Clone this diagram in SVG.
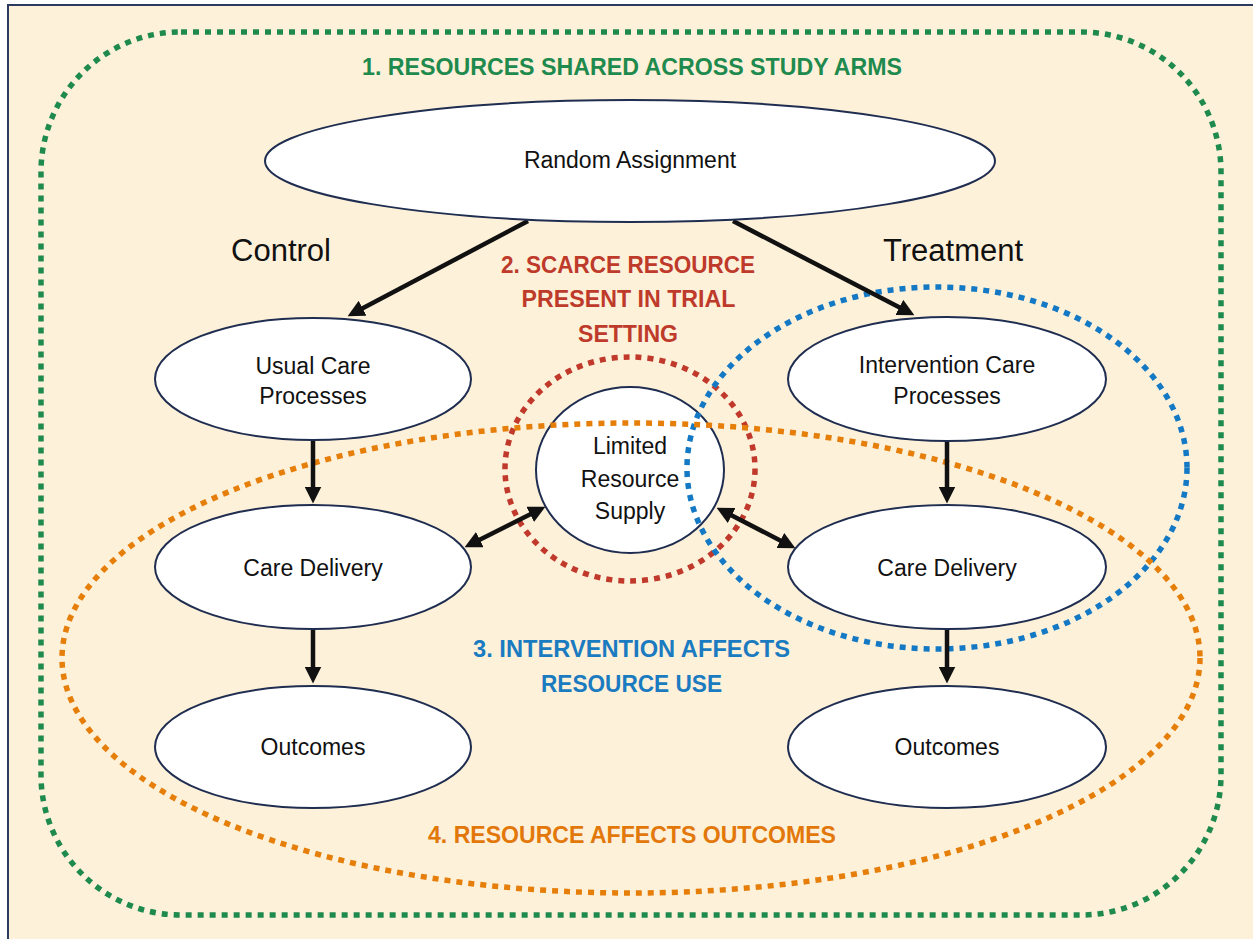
<svg xmlns="http://www.w3.org/2000/svg" width="1253" height="939" viewBox="0 0 1253 939">
<defs>
<style>
.bg{fill:#FEF1DA;stroke:#2B3A5E;stroke-width:2}
.node{fill:#FFFFFF;stroke:#1F2D50;stroke-width:2}
.nt{font-family:"Liberation Sans",Arial,sans-serif;font-size:23px;fill:#111;text-anchor:middle}
.arm{font-family:"Liberation Sans",Arial,sans-serif;font-size:31px;fill:#111;text-anchor:middle}
.hd{font-family:"Liberation Sans",Arial,sans-serif;font-size:24px;font-weight:bold;text-anchor:middle}
.dot{fill:none;stroke-width:5.5;stroke-dasharray:6 6}
.conn{stroke:#111;stroke-width:4.5;fill:none}
.one{marker-end:url(#ah)}
.two{marker-end:url(#ah);marker-start:url(#ah)}
</style>
<marker id="ah" markerUnits="userSpaceOnUse" markerWidth="17" markerHeight="17" viewBox="0 0 16 16" refX="8" refY="8" orient="auto-start-reverse">
<path d="M0,0 L16,8 L0,16 z" fill="#111"/>
</marker>
</defs>
<rect class="bg" x="8" y="5" width="1260" height="950"/>

<g id="group1-shared">
<rect class="dot" x="41" y="32" width="1180" height="883" rx="140" ry="140" stroke="#1F8A4D"/>
<text class="hd" x="632" y="75" textLength="540" lengthAdjust="spacingAndGlyphs" fill="#1F8A4D">1. RESOURCES SHARED ACROSS STUDY ARMS</text>
</g>

<g id="node-limited">
<ellipse class="node" cx="630" cy="470" rx="94" ry="83"/>
<text class="nt" x="630" y="454">Limited</text>
<text class="nt" x="630" y="487">Resource</text>
<text class="nt" x="630" y="519">Supply</text>
</g>

<g id="group2-scarce">
<ellipse class="dot" cx="630" cy="469" rx="125" ry="112" stroke="#C0392B"/>
<text class="hd" x="628" y="273" textLength="254" lengthAdjust="spacingAndGlyphs" fill="#BE3A2A">2. SCARCE RESOURCE</text>
<text class="hd" x="628.5" y="307" textLength="214" lengthAdjust="spacingAndGlyphs" fill="#BE3A2A">PRESENT IN TRIAL</text>
<text class="hd" x="628" y="342" textLength="100" lengthAdjust="spacingAndGlyphs" fill="#BE3A2A">SETTING</text>
</g>

<g id="group3-intervention">
<ellipse class="dot" cx="937" cy="468" rx="250" ry="181" stroke="#1479C4"/>
<text class="hd" x="631.5" y="657" textLength="317" lengthAdjust="spacingAndGlyphs" fill="#1B7BC0">3. INTERVENTION AFFECTS</text>
<text class="hd" x="631.5" y="692" textLength="181" lengthAdjust="spacingAndGlyphs" fill="#1B7BC0">RESOURCE USE</text>
</g>

<g id="group4-outcomes">
<ellipse class="dot" cx="631" cy="658" rx="569" ry="235" stroke="#E67E0A"/>
<text class="hd" x="632" y="843" textLength="408" lengthAdjust="spacingAndGlyphs" fill="#E2770A">4. RESOURCE AFFECTS OUTCOMES</text>
</g>

<g id="arm-labels">
<text class="arm" x="281" y="261">Control</text>
<text class="arm" x="953" y="261">Treatment</text>
</g>

<g id="connectors">
<line class="conn one" x1="528" y1="221" x2="355.1" y2="312.3"/>
<line class="conn one" x1="733" y1="221" x2="906.9" y2="311.3"/>
<line class="conn one" x1="313" y1="440" x2="313" y2="495"/>
<line class="conn one" x1="313" y1="629" x2="313" y2="675"/>
<line class="conn one" x1="947" y1="441" x2="947" y2="495"/>
<line class="conn one" x1="947" y1="629" x2="947" y2="675"/>
<line class="conn two" x1="472.2" y1="543.4" x2="537.8" y2="510.6"/>
<line class="conn two" x1="724.1" y1="511.6" x2="787.9" y2="544.4"/>
</g>

<g id="node-random">
<ellipse class="node" cx="630" cy="161" rx="365" ry="61"/>
<text class="nt" x="630" y="168">Random Assignment</text>
</g>

<g id="node-usual-care">
<ellipse class="node" cx="313" cy="379" rx="158" ry="61"/>
<text class="nt" x="313" y="374">Usual Care</text>
<text class="nt" x="313" y="404">Processes</text>
</g>

<g id="node-intervention-care">
<ellipse class="node" cx="947" cy="379" rx="159" ry="62"/>
<text class="nt" x="947" y="373">Intervention Care</text>
<text class="nt" x="947" y="404">Processes</text>
</g>

<g id="node-care-delivery-control">
<ellipse class="node" cx="313" cy="567" rx="158" ry="62"/>
<text class="nt" x="313" y="576">Care Delivery</text>
</g>

<g id="node-care-delivery-treatment">
<ellipse class="node" cx="947" cy="567" rx="159" ry="62"/>
<text class="nt" x="947" y="576">Care Delivery</text>
</g>

<g id="node-outcomes-control">
<ellipse class="node" cx="313" cy="747" rx="158" ry="61"/>
<text class="nt" x="313" y="755">Outcomes</text>
</g>

<g id="node-outcomes-treatment">
<ellipse class="node" cx="947" cy="747" rx="159" ry="61"/>
<text class="nt" x="947" y="755">Outcomes</text>
</g>
</svg>
